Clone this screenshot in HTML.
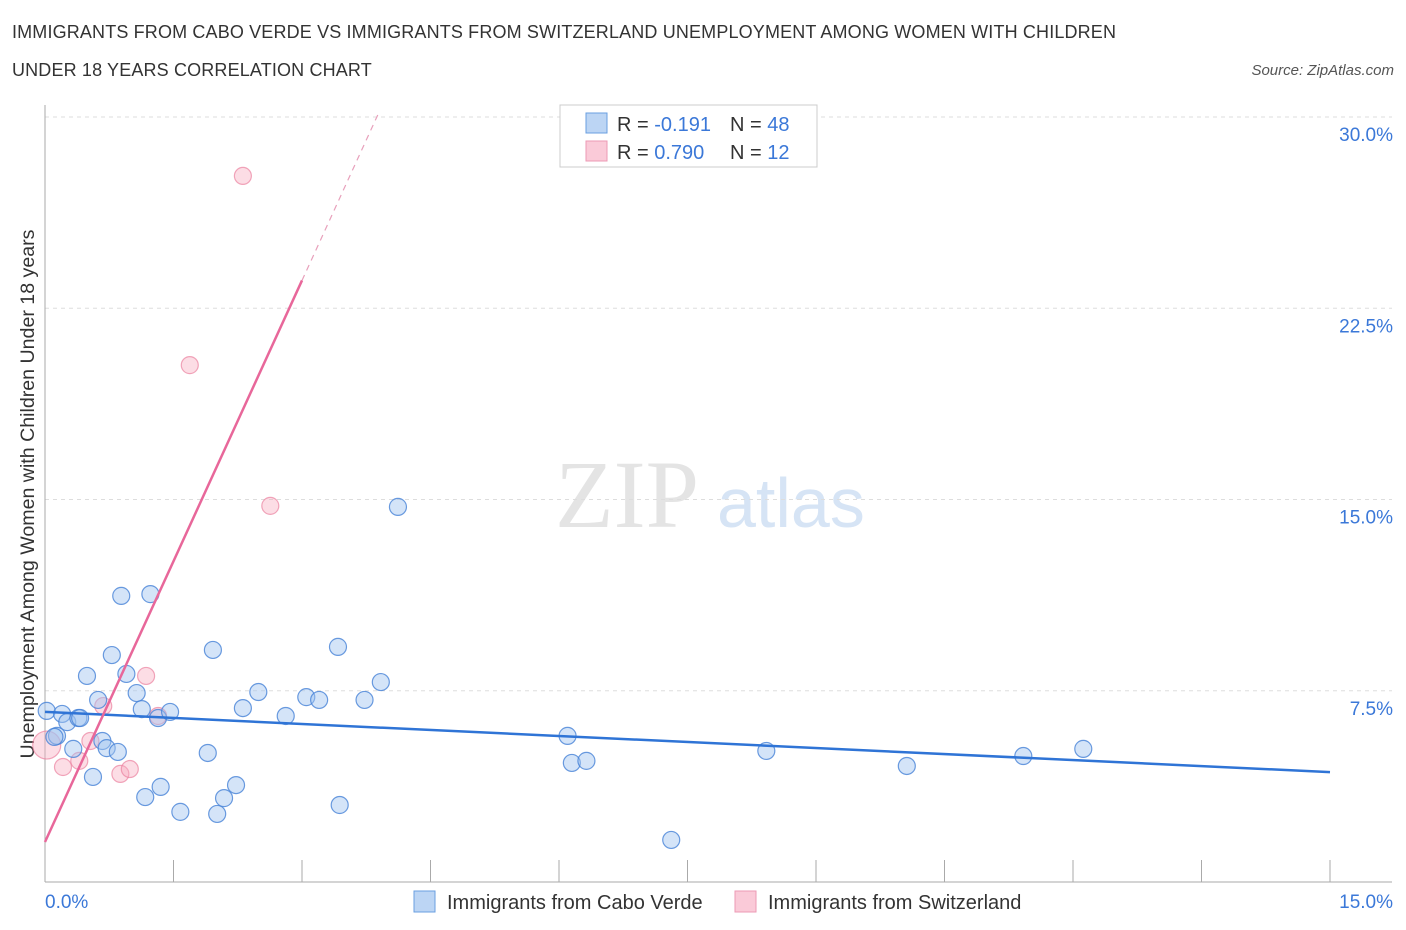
<!DOCTYPE html>
<html><head><meta charset="utf-8"><style>
body{margin:0;background:#fff;font-family:"Liberation Sans",sans-serif;}
#wrap{position:relative;width:1406px;height:930px;overflow:hidden}
.t{position:absolute;color:#333;font-size:18px;letter-spacing:0.15px}
</style></head><body>
<div id="wrap">
<div class="t" style="left:12px;top:22px">IMMIGRANTS FROM CABO VERDE VS IMMIGRANTS FROM SWITZERLAND UNEMPLOYMENT AMONG WOMEN WITH CHILDREN</div>
<div class="t" style="left:12px;top:60px">UNDER 18 YEARS CORRELATION CHART</div>
<div class="t" style="right:12px;top:62px;font-size:15px;font-style:italic;color:#555;letter-spacing:0">Source: ZipAtlas.com</div>
<svg id="svg" width="1406" height="930" style="position:absolute;left:0;top:0"></svg>
</div>
<script>
const xTicks=[0,1.5,3,4.5,6,7.5,9,10.5,12,13.5,15];
const yTicks=[7.5,15,22.5,30];
const yTickLabels=["7.5%","15.0%","22.5%","30.0%"];
const blueX=[0.02,0.20,0.14,0.26,0.39,0.41,0.33,0.49,0.56,0.62,0.67,0.72,0.78,0.85,0.89,0.95,1.07,1.13,1.17,1.23,1.32,1.35,1.46,1.58,1.90,1.96,2.01,2.09,2.23,2.31,2.49,2.81,3.05,3.20,3.42,3.44,3.73,3.92,4.12,6.10,6.15,6.32,7.31,8.42,10.06,11.42,12.12,0.11];
const blueY=[6.71,6.59,5.73,6.27,6.43,6.43,5.22,8.08,4.12,7.14,5.53,5.25,8.90,5.10,11.22,8.16,7.41,6.78,3.33,11.29,6.43,3.73,6.67,2.75,5.06,9.10,2.67,3.29,3.80,6.82,7.45,6.51,7.25,7.14,9.22,3.02,7.14,7.84,14.71,5.73,4.67,4.75,1.65,5.14,4.55,4.94,5.22,5.69];
const pinkX=[2.31,1.69,2.63,1.18,0.68,1.32,0.53,0.40,0.21,0.88,0.99,0.02];
const pinkY=[27.69,20.27,14.75,8.08,6.90,6.51,5.53,4.75,4.51,4.24,4.43,5.37];
const blueLine=[6.67,4.31];
const pinkIntercept=1.57, pinkSlope=7.34, pinkSolidEnd=3.0, pinkDashEnd=3.89;

const X0=45,X1=1330,Y0=882,Y1=117;
const sx=v=>X0+(v/15)*(X1-X0);
const sy=v=>Y0-(v/30)*(Y0-Y1);
const svg=document.getElementById('svg');
const NS='http://www.w3.org/2000/svg';
function mk(tag,attrs){const e=document.createElementNS(NS,tag);for(const k in attrs)e.setAttribute(k,attrs[k]);svg.appendChild(e);return e;}

let wm=mk('text',{x:555,y:527,'font-family':'Liberation Serif, serif','font-size':96,fill:'#e4e4e4'});wm.textContent='ZIP';


let wm2=mk('text',{x:717,y:527,'font-family':'Liberation Sans, sans-serif','font-size':70,fill:'#d6e4f5'});wm2.textContent='atlas';



yTicks.forEach((v,i)=>{
 const g=mk('line',{x1:X0,x2:1392,y1:sy(v),y2:sy(v),stroke:'#ddd','stroke-dasharray':'4,4'});
 
 
 const t=mk('text',{x:1393,y:sy(v)+24,'text-anchor':'end','font-size':19,fill:'#3b78d8'});t.textContent=yTickLabels[i];
 
 
});
let ax=mk('line',{x1:X0,x2:X0,y1:105,y2:Y0,stroke:'#aaa'});


let axx=mk('line',{x1:X0,x2:1392,y1:Y0,y2:Y0,stroke:'#aaa'});


xTicks.forEach(v=>{const t=mk('line',{x1:sx(v),x2:sx(v),y1:Y0-22,y2:Y0,stroke:'#aaa'});
 
 });
let xl=mk('text',{x:45,y:908,'font-size':19,fill:'#3b78d8'});xl.textContent='0.0%';


let xr=mk('text',{x:1393,y:908,'text-anchor':'end','font-size':19,fill:'#3b78d8'});xr.textContent='15.0%';


let yt=mk('text',{x:0,y:0,'font-size':19.6,fill:'#333','text-anchor':'middle',transform:'translate(34,494) rotate(-90)'});yt.textContent='Unemployment Among Women with Children Under 18 years';



pinkX.forEach((v,i)=>{const c=mk('circle',{cx:sx(v),cy:sy(pinkY[i]),r:i==11?14:8.5,fill:'rgba(248,170,190,0.4)',stroke:'rgba(235,130,160,0.7)','stroke-width':1.2});
 
 });
blueX.forEach((v,i)=>{const c=mk('circle',{cx:sx(v),cy:sy(blueY[i]),r:8.5,fill:'rgba(160,195,240,0.45)',stroke:'rgba(70,130,215,0.8)','stroke-width':1.2});
 
 });

let bl=mk('line',{x1:sx(0),y1:sy(blueLine[0]),x2:sx(15),y2:sy(blueLine[1]),stroke:'#2f74d6','stroke-width':2.5});


let pl=mk('line',{x1:sx(0),y1:sy(pinkIntercept),x2:sx(pinkSolidEnd),y2:sy(pinkIntercept+pinkSlope*pinkSolidEnd),stroke:'#e8679a','stroke-width':2.5});


let pd=mk('line',{x1:sx(pinkSolidEnd),y1:sy(pinkIntercept+pinkSlope*pinkSolidEnd),x2:sx(pinkDashEnd),y2:sy(pinkIntercept+pinkSlope*pinkDashEnd),stroke:'#e8a0bb','stroke-width':1.2,'stroke-dasharray':'6,5'});



let lb=mk('rect',{x:560,y:105,width:257,height:62,fill:'#fff',stroke:'#ccc'});


[[-0.191,48,'rgba(160,195,240,0.7)','#6a9fe0'],[0.790,12,'rgba(248,180,200,0.7)','#ec9ab5']].forEach((r,i)=>{
 const y=113+i*28;
 const s=mk('rect',{x:586,y:y,width:21,height:20,fill:r[2],stroke:r[3]});
 
 
 const t=mk('text',{x:617,y:y+18,'font-size':20,fill:'#333'});
 t.innerHTML='R = <tspan fill="#3b78d8">'+r[0].toFixed(3)+'</tspan>';
 
 
 const n=mk('text',{x:730,y:y+18,'font-size':20,fill:'#333','xml:space':'preserve'});
 n.innerHTML='N = <tspan fill="#3b78d8">'+(r[1]<20?' ':'')+r[1]+'</tspan>';
 
 
});
[['Immigrants from Cabo Verde',414,'rgba(160,195,240,0.7)','#6a9fe0'],['Immigrants from Switzerland',735,'rgba(248,180,200,0.7)','#ec9ab5']].forEach(r=>{
 const s=mk('rect',{x:r[1],y:891,width:21,height:21,fill:r[2],stroke:r[3]});
 
 
 const t=mk('text',{x:r[1]+33,y:909,'font-size':20,fill:'#333'});t.textContent=r[0];
 
 
});
</script>
</body></html>
